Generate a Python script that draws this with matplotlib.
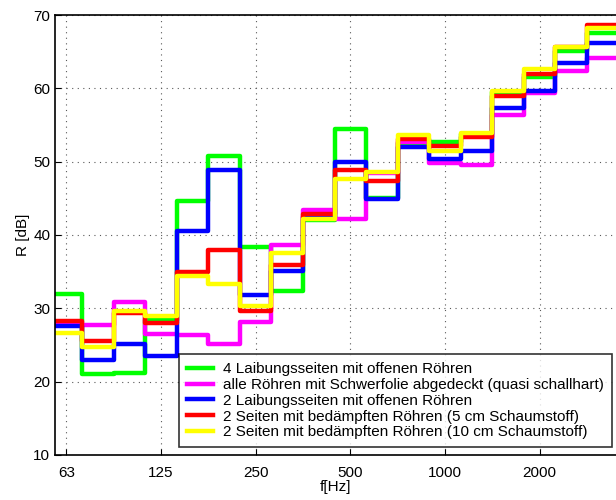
import numpy as np
import matplotlib.pyplot as plt

# Terzbaender (nominal) und Schalldaemmmass R in dB
bands = [63, 80, 100, 125, 160, 200, 250, 315, 400, 500, 630, 800,
         1000, 1250, 1600, 2000, 2500, 3150]

r_4seiten_offen = [32.0, 21.1, 21.2, 28.4, 44.6, 50.8, 38.3, 32.4, 42.0, 54.5,
                   45.0, 52.5, 52.7, 53.8, 59.5, 61.6, 65.1, 67.6]
r_schwerfolie = [27.9, 27.7, 30.9, 26.5, 26.4, 25.1, 28.2, 38.6, 43.4, 42.2,
                 48.4, 52.7, 49.8, 49.5, 56.4, 59.4, 62.3, 64.2]
r_2seiten_offen = [27.6, 23.0, 25.1, 23.5, 40.5, 48.9, 31.8, 35.1, 42.5, 49.9,
                   44.9, 52.0, 50.4, 51.4, 57.3, 59.6, 63.5, 66.2]
r_5cm = [28.3, 25.5, 29.4, 28.0, 35.0, 38.0, 29.7, 35.9, 42.9, 48.8,
         47.4, 53.1, 52.2, 53.4, 59.0, 62.0, 65.6, 68.6]
r_10cm = [26.6, 24.7, 29.7, 29.0, 34.4, 33.3, 30.3, 37.6, 42.2, 47.6,
          48.6, 53.7, 51.5, 53.9, 59.7, 62.7, 65.7, 68.2]

labels = ['4 Laibungsseiten mit offenen Röhren',
          'alle Röhren mit Schwerfolie abgedeckt (quasi schallhart)',
          '2 Laibungsseiten mit offenen Röhren',
          '2 Seiten mit bedämpften Röhren (5 cm Schaumstoff)',
          '2 Seiten mit bedämpften Röhren (10 cm Schaumstoff)']
colors = ['#00ff00', '#ff00ff', '#0000ff', '#ff0000', '#ffff00']
tick_labels = ['63', '125', '250', '500', '1000', '2000']

plt.rcParams['font.family'] = ['Liberation Sans', 'DejaVu Sans']

# exakte Terzmitten -> Bandgrenzen
n = np.arange(len(bands)) - 12
edges = 1000 * 2 ** ((np.append(n, n[-1] + 1) - 0.5) / 3)

fig = plt.figure(figsize=(6.16, 5.0), dpi=100)
ax = fig.add_axes([55 / 616, 45 / 500, 561 / 616, 440 / 500])

for vals, col, lab in zip([r_4seiten_offen, r_schwerfolie, r_2seiten_offen, r_5cm, r_10cm],
                          colors, labels):
    ax.step(edges, list(vals) + [vals[-1]], where='post', color=col, lw=3.2, label=lab)

ax.set_xscale('log')
ax.set_xlim(57.5, 3500)
ax.set_ylim(10, 70)
ax.set_xticks([62.5 * 2 ** i for i in range(6)])
ax.set_xticklabels(tick_labels)
ax.xaxis.set_minor_locator(plt.NullLocator())
ax.set_yticks(range(10, 71, 10))
ax.tick_params(direction='in', labelsize=11, length=4)
ax.tick_params(axis='x', pad=8)
ax.grid(True, color='0.35', linestyle=(0, (1, 4)), linewidth=0.8)
ax.spines['right'].set_visible(False)
for s in ['left', 'bottom', 'top']:
    ax.spines[s].set_linewidth(1.2)

ax.set_xlabel('f[Hz]', fontsize=11, labelpad=0)
ax.set_ylabel('R [dB]', fontsize=11, labelpad=2)

leg = ax.legend(loc='lower right', bbox_to_anchor=(0.992, 0.018), borderaxespad=0,
                fontsize=11, frameon=True, fancybox=False, handlelength=1.7,
                handletextpad=0.65, labelspacing=0.12, borderpad=0.5)
leg.get_frame().set_edgecolor('black')
leg.get_frame().set_linewidth(1.2)

plt.savefig('out.png', dpi=100)
